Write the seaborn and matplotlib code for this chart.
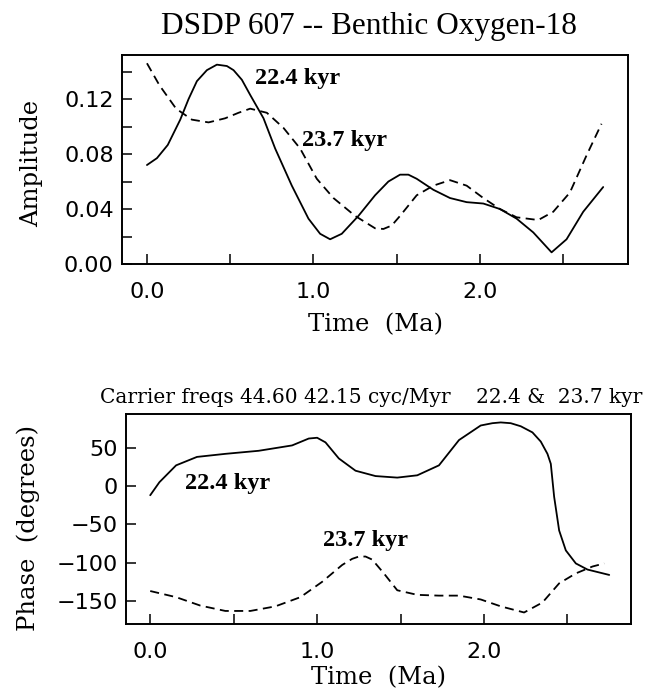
import pandas as pd
import matplotlib
matplotlib.use("Agg")
import matplotlib.pyplot as plt
import seaborn as sns
from matplotlib.ticker import MultipleLocator

# ────────── data ───────────────────────────────────────────────────────────────
amp_t_224 = [0.0, 0.06, 0.125, 0.2, 0.25, 0.3, 0.36, 0.42, 0.48, 0.52, 0.57, 0.62,
             0.70, 0.77, 0.87, 0.97, 1.04, 1.10, 1.17, 1.27, 1.37, 1.45, 1.52, 1.57,
             1.62, 1.72, 1.82, 1.92, 2.02, 2.12, 2.22, 2.32, 2.43, 2.52, 2.62, 2.74]
amp_224 = [0.072, 0.077, 0.0866, 0.105, 0.120, 0.133, 0.141, 0.145, 0.144, 0.141,
           0.134, 0.123, 0.106, 0.084, 0.057, 0.033, 0.022, 0.018, 0.022, 0.035,
           0.050, 0.060, 0.065, 0.065, 0.062, 0.054, 0.048, 0.045, 0.044, 0.040,
           0.033, 0.023, 0.0085, 0.018, 0.038, 0.056]

amp_t_237 = [0.0, 0.075, 0.175, 0.27, 0.37, 0.47, 0.55, 0.62, 0.72, 0.82, 0.92,
             1.02, 1.12, 1.25, 1.37, 1.42, 1.47, 1.52, 1.62, 1.72, 1.82, 1.92, 2.02,
             2.12, 2.22, 2.35, 2.44, 2.54, 2.64, 2.73]
amp_237 = [0.146, 0.130, 0.113, 0.105, 0.103, 0.106, 0.110, 0.113, 0.110, 0.099,
           0.084, 0.062, 0.048, 0.035, 0.026, 0.0255, 0.028, 0.035, 0.050, 0.057,
           0.061, 0.057, 0.048, 0.040, 0.034, 0.032, 0.038, 0.052, 0.079, 0.102]

ph_t_224 = [0.0, 0.055, 0.155, 0.28, 0.45, 0.65, 0.85, 0.95, 1.0, 1.05, 1.13, 1.23,
            1.35, 1.48, 1.6, 1.73, 1.85, 1.98, 2.05, 2.1, 2.16, 2.22, 2.29, 2.34,
            2.38, 2.4, 2.42, 2.45, 2.49, 2.55, 2.62, 2.75]
ph_224 = [-12, 5, 27, 38, 42, 46, 53, 62, 63, 57, 36, 20, 13, 11, 14, 27, 60, 79,
          82, 83, 82, 78, 70, 58, 42, 29, -14, -58, -84, -101, -109, -116]

ph_t_237 = [0.0, 0.155, 0.30, 0.45, 0.6, 0.75, 0.9, 1.03, 1.15, 1.21, 1.25, 1.29,
            1.33, 1.40, 1.48, 1.6, 1.73, 1.85, 1.98, 2.1, 2.24, 2.35, 2.45, 2.55,
            2.65, 2.72]
ph_237 = [-137, -145, -156, -163, -163, -157, -145, -125, -103, -95, -92, -92,
          -96, -114, -136, -142, -143, -143, -148, -157, -165, -152, -127, -114,
          -105, -101]

TITLE = "DSDP 607 -- Benthic Oxygen-18"
CARRIER = "Carrier freqs 44.60 42.15 cyc/Myr    22.4 &  23.7 kyr"

LABEL_FONT = "DejaVu Serif"
TICK_FONT = "DejaVu Sans"


# ────────── helpers ────────────────────────────────────────────────────────────
def _style(ax, minor_y=None):
    for s in ax.spines.values():
        s.set_linewidth(1.4)
        s.set_color("black")
    ax.tick_params(axis="both", which="both", direction="in", length=7.5,
                   width=1.1, bottom=True, left=True, top=False, right=False,
                   labelsize=16, colors="black")
    ax.tick_params(axis="x", pad=13)
    ax.tick_params(axis="y", pad=6)
    ax.set_xticks([0, 0.5, 1.0, 1.5, 2.0, 2.5],
                  ["0.0", "", "1.0", "", "2.0", ""])
    if minor_y is not None:
        ax.yaxis.set_minor_locator(MultipleLocator(minor_y))
    for lab in ax.get_xticklabels() + ax.get_yticklabels():
        lab.set_family(TICK_FONT)
    ax.grid(False)


def _curve(ax, t, v, dashed):
    df = pd.DataFrame({"t": t, "v": v})
    kw = dict(dashes=(5, 3)) if dashed else {}
    sns.lineplot(data=df, x="t", y="v", ax=ax, color="black", lw=1.3,
                 estimator=None, sort=False, **kw)


def _note(ax, x, y, s):
    ax.text(x, y, s, family="Liberation Serif", weight="bold", fontsize=17.5,
            color="black", ha="left", va="center")


# ────────── main ───────────────────────────────────────────────────────────────
def main() -> None:
    sns.set_style("white")
    plt.rcParams["text.color"] = "black"
    plt.rcParams["axes.labelcolor"] = "black"

    fig = plt.figure(figsize=(6.54, 6.93), dpi=100)
    ax1 = fig.add_axes([0.1865, 0.619, 0.774, 0.3016])
    ax2 = fig.add_axes([0.1927, 0.0996, 0.772, 0.303])

    # amplitude panel
    _curve(ax1, amp_t_224, amp_224, dashed=False)
    _curve(ax1, amp_t_237, amp_237, dashed=True)
    ax1.set_xlim(-0.15, 2.89)
    ax1.set_ylim(0.0, 0.152)
    ax1.set_yticks([0.0, 0.04, 0.08, 0.12], ["0.00", "0.04", "0.08", "0.12"])
    _style(ax1, minor_y=0.02)
    ax1.set_xlabel("Time  (Ma)", family=LABEL_FONT, fontsize=17.5)
    ax1.set_ylabel("Amplitude", family=LABEL_FONT, fontsize=17.5)
    ax1.xaxis.set_label_coords(0.5, -0.235)
    ax1.yaxis.set_label_coords(-0.155, 0.48)
    _note(ax1, 0.65, 0.135, "22.4 kyr")
    _note(ax1, 0.93, 0.090, "23.7 kyr")

    # phase panel
    _curve(ax2, ph_t_224, ph_224, dashed=False)
    _curve(ax2, ph_t_237, ph_237, dashed=True)
    ax2.set_xlim(-0.145, 2.88)
    ax2.set_ylim(-180, 94)
    ax2.set_yticks([-150, -100, -50, 0, 50])
    _style(ax2)
    ax2.set_xlabel("Time  (Ma)", family=LABEL_FONT, fontsize=17.5)
    ax2.set_ylabel("Phase  (degrees)", family=LABEL_FONT, fontsize=17.5)
    ax2.xaxis.set_label_coords(0.5, -0.2)
    ax2.yaxis.set_label_coords(-0.17, 0.457)
    _note(ax2, 0.21, 3, "22.4 kyr")
    _note(ax2, 1.035, -71, "23.7 kyr")

    fig.text(0.564, 0.962, TITLE, family="Liberation Serif", fontsize=22.5,
             ha="center", va="center")
    fig.text(100 / 654, 0.426, CARRIER, family=LABEL_FONT, fontsize=14.5,
             ha="left", va="center")

    fig.savefig("out.png", dpi=100)
    plt.close(fig)


if __name__ == "__main__":
    main()
